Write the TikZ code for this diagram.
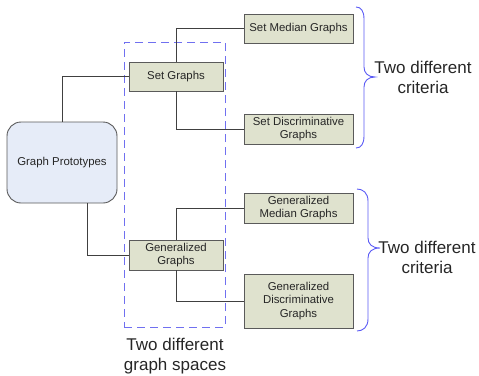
\documentclass[tikz,border=0pt]{standalone}
\usepackage{fontspec}
\setmainfont{Liberation Sans}
\definecolor{boxfill}{HTML}{DFE2CE}
\definecolor{boxline}{HTML}{5A5A5A}
\definecolor{gpfill}{HTML}{E6ECF8}
\definecolor{dashblue}{HTML}{7070F0}
\definecolor{braceblue}{HTML}{5A5AF5}
\begin{document}
\begin{tikzpicture}[x=1pt,y=-1pt,
  gbox/.style={draw=boxline,line width=0.9pt,fill=boxfill,align=center,inner sep=1pt,
    font=\fontsize{11.4}{13.2}\selectfont,text=black!85},
  conn/.style={draw=black!75,line width=0.8pt},
  lbl/.style={align=center,font=\fontsize{17}{20}\selectfont,text=black!85},
  brc/.style={draw=braceblue,line width=0.9pt}]
\useasboundingbox (0,0) rectangle (479,375);
% graph spaces box
\node[draw=dashblue,line width=1pt,dash pattern=on 8pt off 5pt,minimum width=101pt,minimum height=285pt,inner sep=0pt] (dbox) at (174.5,184.5) {};
\node[draw=boxline,line width=0.9pt,fill=gpfill,rounded corners=14pt,minimum width=110pt,minimum height=81pt,inner sep=0pt,
  font=\fontsize{11.4}{13.2}\selectfont,text=black!85] (GP) at (62,162.5) {Graph Prototypes};
\node[gbox,minimum width=94pt,minimum height=29pt] (SG) at (176,76.5) {Set Graphs};
\node[gbox,minimum width=109pt,minimum height=29pt] (SMG) at (298.5,28.5) {Set Median Graphs};
\node[gbox,minimum width=109pt,minimum height=30pt] (SDG) at (298.5,129) {Set Discriminative\\Graphs};
\node[gbox,minimum width=94pt,minimum height=30pt] (GG) at (176,255) {Generalized\\Graphs};
\node[gbox,minimum width=109pt,minimum height=30pt] (GMG) at (298.5,208) {Generalized\\Median Graphs};
\node[gbox,minimum width=109pt,minimum height=54pt] (GDG) at (298.5,301) {Generalized\\Discriminative\\Graphs};
% connectors
\draw[conn] (GP.north) |- (SG.west);
\draw[conn] ([xshift=25pt]GP.south) |- (GG.west);
\draw[conn] (SG.north) |- (SMG.west);
\draw[conn] (SG.south) |- (SDG.west);
\draw[conn] (GG.north) |- (GMG.west);
\draw[conn] (GG.south) |- (GDG.west);
% braces
\draw[brc] (356,7) .. controls (361,7) and (364,11) .. (364,19) -- (364,67)
  .. controls (364,73) and (368,77) .. (375,77)
  .. controls (368,77) and (364,81) .. (364,87) -- (364,136)
  .. controls (364,144) and (361,148) .. (356,148);
\draw[brc] (357,189) .. controls (363,189) and (368,193) .. (368,201) -- (368,238)
  .. controls (368,244) and (372,248) .. (380,248)
  .. controls (372,248) and (368,252) .. (368,258) -- (368,319)
  .. controls (368,327) and (363,331) .. (357,331);
% labels
\node[lbl] (c1) at (423,77) {Two different\\criteria};
\node[lbl] (c2) at (427,257) {Two different\\criteria};
\node[lbl] (c3) at (175,356) {Two different\\graph spaces};
\end{tikzpicture}
\end{document}
